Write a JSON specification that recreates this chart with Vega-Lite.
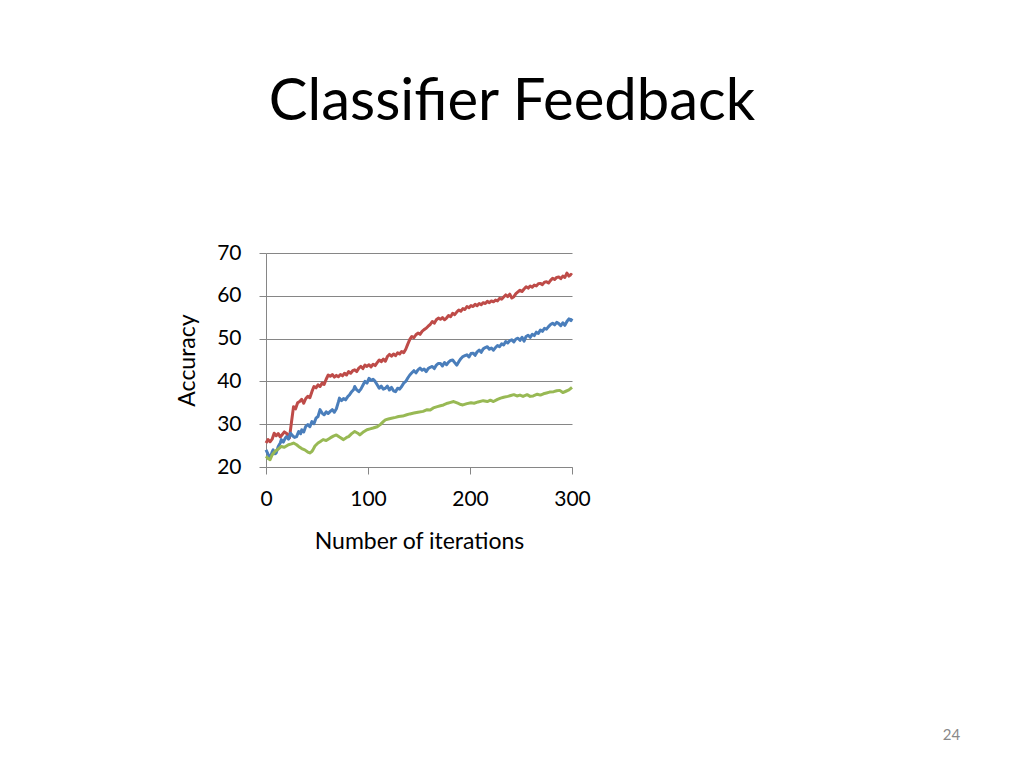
{
  "$schema": "https://vega.github.io/schema/vega-lite/v6.json",
  "width": 306,
  "height": 214,
  "autosize": {"type": "none"},
  "padding": {"left": 266, "top": 253, "right": 452, "bottom": 301},
  "background": "white",
  "config": {"view": {"stroke": null}, "font": "Lato"},
  "title": {
    "text": "Classifier Feedback",
    "anchor": "middle",
    "frame": "group",
    "dx": 93,
    "offset": 110,
    "fontSize": 58,
    "font": "Lato",
    "fontWeight": "normal",
    "color": "#000000"
  },
  "datasets": {
    "main": [
      {"i":0,"s":"s1","v":25.6},{"i":2,"s":"s1","v":26.4},{"i":4,"s":"s1","v":25.9},{"i":6,"s":"s1","v":26.5},{"i":8,"s":"s1","v":27.9},{"i":10,"s":"s1","v":27.3},{"i":12,"s":"s1","v":27.8},{"i":14,"s":"s1","v":27.0},{"i":16,"s":"s1","v":27.6},{"i":18,"s":"s1","v":28.2},{"i":20,"s":"s1","v":27.9},{"i":22,"s":"s1","v":27.2},{"i":23,"s":"s1","v":26.8},{"i":25,"s":"s1","v":30.5},{"i":27,"s":"s1","v":34.1},{"i":29,"s":"s1","v":33.6},{"i":31,"s":"s1","v":35.0},{"i":33,"s":"s1","v":35.3},{"i":35,"s":"s1","v":35.8},{"i":37,"s":"s1","v":34.9},{"i":39,"s":"s1","v":36.0},{"i":41,"s":"s1","v":36.5},{"i":43,"s":"s1","v":36.2},{"i":45,"s":"s1","v":37.6},{"i":47,"s":"s1","v":38.8},{"i":49,"s":"s1","v":38.5},{"i":51,"s":"s1","v":39.2},{"i":53,"s":"s1","v":38.8},{"i":55,"s":"s1","v":39.6},{"i":57,"s":"s1","v":39.3},{"i":59,"s":"s1","v":40.5},{"i":61,"s":"s1","v":41.5},{"i":63,"s":"s1","v":41.2},{"i":65,"s":"s1","v":41.6},{"i":67,"s":"s1","v":41.0},{"i":69,"s":"s1","v":41.4},{"i":71,"s":"s1","v":41.1},{"i":73,"s":"s1","v":41.6},{"i":75,"s":"s1","v":41.3},{"i":77,"s":"s1","v":41.9},{"i":79,"s":"s1","v":41.5},{"i":81,"s":"s1","v":42.3},{"i":83,"s":"s1","v":41.9},{"i":85,"s":"s1","v":42.5},{"i":87,"s":"s1","v":42.7},{"i":89,"s":"s1","v":42.3},{"i":91,"s":"s1","v":43.1},{"i":93,"s":"s1","v":43.5},{"i":95,"s":"s1","v":43.0},{"i":97,"s":"s1","v":43.8},{"i":99,"s":"s1","v":43.5},{"i":101,"s":"s1","v":43.9},{"i":103,"s":"s1","v":43.4},{"i":105,"s":"s1","v":44.0},{"i":107,"s":"s1","v":43.7},{"i":109,"s":"s1","v":44.4},{"i":111,"s":"s1","v":45.0},{"i":113,"s":"s1","v":44.6},{"i":115,"s":"s1","v":45.2},{"i":117,"s":"s1","v":44.7},{"i":119,"s":"s1","v":45.8},{"i":121,"s":"s1","v":46.3},{"i":123,"s":"s1","v":45.9},{"i":125,"s":"s1","v":46.4},{"i":127,"s":"s1","v":46.0},{"i":129,"s":"s1","v":46.7},{"i":131,"s":"s1","v":46.4},{"i":133,"s":"s1","v":47.0},{"i":135,"s":"s1","v":46.7},{"i":137,"s":"s1","v":47.5},{"i":139,"s":"s1","v":48.7},{"i":141,"s":"s1","v":49.8},{"i":143,"s":"s1","v":50.5},{"i":145,"s":"s1","v":50.2},{"i":147,"s":"s1","v":50.9},{"i":149,"s":"s1","v":51.3},{"i":151,"s":"s1","v":51.0},{"i":153,"s":"s1","v":51.7},{"i":155,"s":"s1","v":52.1},{"i":157,"s":"s1","v":52.4},{"i":159,"s":"s1","v":52.9},{"i":161,"s":"s1","v":53.3},{"i":163,"s":"s1","v":54.0},{"i":165,"s":"s1","v":53.6},{"i":167,"s":"s1","v":54.4},{"i":169,"s":"s1","v":54.8},{"i":171,"s":"s1","v":54.5},{"i":173,"s":"s1","v":54.9},{"i":175,"s":"s1","v":54.4},{"i":177,"s":"s1","v":54.8},{"i":179,"s":"s1","v":55.4},{"i":181,"s":"s1","v":55.1},{"i":183,"s":"s1","v":55.9},{"i":185,"s":"s1","v":55.6},{"i":187,"s":"s1","v":56.2},{"i":189,"s":"s1","v":56.7},{"i":191,"s":"s1","v":56.4},{"i":193,"s":"s1","v":57.0},{"i":195,"s":"s1","v":56.8},{"i":197,"s":"s1","v":57.5},{"i":199,"s":"s1","v":57.2},{"i":201,"s":"s1","v":57.7},{"i":203,"s":"s1","v":57.5},{"i":205,"s":"s1","v":58.0},{"i":207,"s":"s1","v":57.7},{"i":209,"s":"s1","v":58.2},{"i":211,"s":"s1","v":57.9},{"i":213,"s":"s1","v":58.4},{"i":215,"s":"s1","v":58.2},{"i":217,"s":"s1","v":58.7},{"i":219,"s":"s1","v":58.4},{"i":221,"s":"s1","v":58.8},{"i":223,"s":"s1","v":58.6},{"i":225,"s":"s1","v":59.0},{"i":227,"s":"s1","v":58.8},{"i":229,"s":"s1","v":59.4},{"i":231,"s":"s1","v":59.2},{"i":233,"s":"s1","v":59.7},{"i":235,"s":"s1","v":60.2},{"i":237,"s":"s1","v":59.8},{"i":239,"s":"s1","v":60.4},{"i":241,"s":"s1","v":59.5},{"i":243,"s":"s1","v":59.8},{"i":245,"s":"s1","v":60.5},{"i":247,"s":"s1","v":60.9},{"i":249,"s":"s1","v":61.3},{"i":251,"s":"s1","v":61.0},{"i":253,"s":"s1","v":61.6},{"i":255,"s":"s1","v":62.1},{"i":257,"s":"s1","v":61.8},{"i":259,"s":"s1","v":62.3},{"i":261,"s":"s1","v":62.0},{"i":263,"s":"s1","v":62.5},{"i":265,"s":"s1","v":62.3},{"i":267,"s":"s1","v":62.8},{"i":269,"s":"s1","v":62.9},{"i":271,"s":"s1","v":62.6},{"i":273,"s":"s1","v":63.2},{"i":275,"s":"s1","v":63.3},{"i":277,"s":"s1","v":63.0},{"i":279,"s":"s1","v":63.6},{"i":281,"s":"s1","v":64.1},{"i":283,"s":"s1","v":63.8},{"i":285,"s":"s1","v":64.3},{"i":287,"s":"s1","v":64.4},{"i":289,"s":"s1","v":64.0},{"i":291,"s":"s1","v":64.6},{"i":293,"s":"s1","v":64.3},{"i":295,"s":"s1","v":65.3},{"i":297,"s":"s1","v":64.6},{"i":299,"s":"s1","v":65.0},{"i":300,"s":"s1","v":64.8},
      {"i":0,"s":"s2","v":24.0},{"i":2,"s":"s2","v":23.0},{"i":4,"s":"s2","v":22.1},{"i":6,"s":"s2","v":23.5},{"i":7,"s":"s2","v":24.0},{"i":9,"s":"s2","v":23.1},{"i":10,"s":"s2","v":23.3},{"i":12,"s":"s2","v":24.8},{"i":14,"s":"s2","v":25.6},{"i":15,"s":"s2","v":26.4},{"i":17,"s":"s2","v":25.8},{"i":19,"s":"s2","v":26.8},{"i":20,"s":"s2","v":27.1},{"i":22,"s":"s2","v":26.5},{"i":24,"s":"s2","v":27.9},{"i":26,"s":"s2","v":27.3},{"i":28,"s":"s2","v":26.9},{"i":30,"s":"s2","v":27.1},{"i":32,"s":"s2","v":28.3},{"i":34,"s":"s2","v":27.8},{"i":35,"s":"s2","v":28.7},{"i":37,"s":"s2","v":28.2},{"i":39,"s":"s2","v":29.5},{"i":41,"s":"s2","v":29.9},{"i":43,"s":"s2","v":29.4},{"i":45,"s":"s2","v":30.6},{"i":47,"s":"s2","v":30.1},{"i":49,"s":"s2","v":31.4},{"i":51,"s":"s2","v":31.8},{"i":53,"s":"s2","v":33.4},{"i":55,"s":"s2","v":32.6},{"i":57,"s":"s2","v":32.2},{"i":59,"s":"s2","v":32.9},{"i":61,"s":"s2","v":32.5},{"i":63,"s":"s2","v":33.0},{"i":65,"s":"s2","v":33.4},{"i":67,"s":"s2","v":32.8},{"i":69,"s":"s2","v":33.6},{"i":71,"s":"s2","v":35.2},{"i":72,"s":"s2","v":36.1},{"i":74,"s":"s2","v":35.5},{"i":76,"s":"s2","v":36.0},{"i":78,"s":"s2","v":35.7},{"i":80,"s":"s2","v":36.4},{"i":82,"s":"s2","v":36.9},{"i":84,"s":"s2","v":37.6},{"i":86,"s":"s2","v":38.1},{"i":87,"s":"s2","v":38.8},{"i":89,"s":"s2","v":38.0},{"i":91,"s":"s2","v":37.6},{"i":93,"s":"s2","v":38.2},{"i":95,"s":"s2","v":39.1},{"i":97,"s":"s2","v":40.0},{"i":99,"s":"s2","v":39.6},{"i":101,"s":"s2","v":40.7},{"i":103,"s":"s2","v":40.2},{"i":105,"s":"s2","v":40.5},{"i":107,"s":"s2","v":40.0},{"i":109,"s":"s2","v":39.2},{"i":111,"s":"s2","v":38.4},{"i":113,"s":"s2","v":38.9},{"i":115,"s":"s2","v":38.2},{"i":117,"s":"s2","v":38.4},{"i":119,"s":"s2","v":38.9},{"i":121,"s":"s2","v":38.0},{"i":123,"s":"s2","v":38.6},{"i":125,"s":"s2","v":37.8},{"i":127,"s":"s2","v":37.6},{"i":129,"s":"s2","v":38.4},{"i":131,"s":"s2","v":38.2},{"i":133,"s":"s2","v":38.8},{"i":135,"s":"s2","v":39.6},{"i":137,"s":"s2","v":40.0},{"i":139,"s":"s2","v":40.8},{"i":141,"s":"s2","v":41.5},{"i":143,"s":"s2","v":42.0},{"i":145,"s":"s2","v":42.5},{"i":147,"s":"s2","v":42.0},{"i":149,"s":"s2","v":42.7},{"i":151,"s":"s2","v":43.1},{"i":153,"s":"s2","v":42.6},{"i":155,"s":"s2","v":42.9},{"i":157,"s":"s2","v":42.3},{"i":159,"s":"s2","v":43.0},{"i":161,"s":"s2","v":43.3},{"i":163,"s":"s2","v":43.5},{"i":165,"s":"s2","v":43.0},{"i":167,"s":"s2","v":43.8},{"i":169,"s":"s2","v":44.2},{"i":171,"s":"s2","v":44.2},{"i":173,"s":"s2","v":43.6},{"i":175,"s":"s2","v":44.4},{"i":177,"s":"s2","v":43.9},{"i":179,"s":"s2","v":44.5},{"i":181,"s":"s2","v":44.9},{"i":183,"s":"s2","v":45.0},{"i":185,"s":"s2","v":44.4},{"i":187,"s":"s2","v":43.8},{"i":189,"s":"s2","v":44.6},{"i":191,"s":"s2","v":45.3},{"i":193,"s":"s2","v":45.8},{"i":195,"s":"s2","v":46.0},{"i":197,"s":"s2","v":46.2},{"i":199,"s":"s2","v":45.7},{"i":201,"s":"s2","v":46.5},{"i":203,"s":"s2","v":46.6},{"i":205,"s":"s2","v":46.1},{"i":207,"s":"s2","v":46.9},{"i":209,"s":"s2","v":47.3},{"i":211,"s":"s2","v":46.8},{"i":213,"s":"s2","v":47.6},{"i":215,"s":"s2","v":47.9},{"i":217,"s":"s2","v":48.1},{"i":219,"s":"s2","v":47.5},{"i":221,"s":"s2","v":47.8},{"i":223,"s":"s2","v":47.3},{"i":225,"s":"s2","v":47.9},{"i":227,"s":"s2","v":48.4},{"i":229,"s":"s2","v":48.1},{"i":231,"s":"s2","v":48.8},{"i":233,"s":"s2","v":48.5},{"i":235,"s":"s2","v":49.3},{"i":237,"s":"s2","v":49.0},{"i":239,"s":"s2","v":49.5},{"i":241,"s":"s2","v":49.7},{"i":243,"s":"s2","v":49.2},{"i":245,"s":"s2","v":49.9},{"i":247,"s":"s2","v":50.1},{"i":249,"s":"s2","v":49.6},{"i":251,"s":"s2","v":50.3},{"i":253,"s":"s2","v":49.4},{"i":255,"s":"s2","v":50.5},{"i":257,"s":"s2","v":50.8},{"i":259,"s":"s2","v":50.3},{"i":261,"s":"s2","v":51.0},{"i":263,"s":"s2","v":50.7},{"i":265,"s":"s2","v":51.5},{"i":267,"s":"s2","v":51.2},{"i":269,"s":"s2","v":52.0},{"i":271,"s":"s2","v":51.7},{"i":273,"s":"s2","v":52.4},{"i":275,"s":"s2","v":52.2},{"i":277,"s":"s2","v":52.8},{"i":279,"s":"s2","v":53.3},{"i":281,"s":"s2","v":53.6},{"i":283,"s":"s2","v":53.2},{"i":285,"s":"s2","v":53.8},{"i":287,"s":"s2","v":53.5},{"i":289,"s":"s2","v":53.0},{"i":291,"s":"s2","v":53.7},{"i":293,"s":"s2","v":53.1},{"i":295,"s":"s2","v":54.0},{"i":297,"s":"s2","v":54.6},{"i":299,"s":"s2","v":54.2},{"i":300,"s":"s2","v":54.7},
      {"i":0,"s":"s3","v":22.5},{"i":2,"s":"s3","v":22.0},{"i":4,"s":"s3","v":21.7},{"i":6,"s":"s3","v":22.8},{"i":9,"s":"s3","v":23.7},{"i":12,"s":"s3","v":24.2},{"i":15,"s":"s3","v":24.8},{"i":18,"s":"s3","v":24.6},{"i":22,"s":"s3","v":25.2},{"i":25,"s":"s3","v":25.4},{"i":27,"s":"s3","v":25.6},{"i":30,"s":"s3","v":25.2},{"i":32,"s":"s3","v":24.8},{"i":35,"s":"s3","v":24.3},{"i":38,"s":"s3","v":24.0},{"i":41,"s":"s3","v":23.5},{"i":43,"s":"s3","v":23.3},{"i":45,"s":"s3","v":23.6},{"i":46,"s":"s3","v":24.0},{"i":48,"s":"s3","v":24.9},{"i":51,"s":"s3","v":25.6},{"i":53,"s":"s3","v":25.9},{"i":56,"s":"s3","v":26.4},{"i":59,"s":"s3","v":26.2},{"i":63,"s":"s3","v":26.8},{"i":66,"s":"s3","v":27.2},{"i":69,"s":"s3","v":27.5},{"i":72,"s":"s3","v":27.0},{"i":76,"s":"s3","v":26.4},{"i":79,"s":"s3","v":26.9},{"i":81,"s":"s3","v":27.1},{"i":84,"s":"s3","v":27.8},{"i":87,"s":"s3","v":28.3},{"i":90,"s":"s3","v":27.9},{"i":92,"s":"s3","v":27.5},{"i":95,"s":"s3","v":28.1},{"i":99,"s":"s3","v":28.7},{"i":102,"s":"s3","v":28.9},{"i":105,"s":"s3","v":29.1},{"i":109,"s":"s3","v":29.4},{"i":112,"s":"s3","v":29.9},{"i":115,"s":"s3","v":30.6},{"i":117,"s":"s3","v":31.0},{"i":120,"s":"s3","v":31.2},{"i":123,"s":"s3","v":31.4},{"i":127,"s":"s3","v":31.6},{"i":130,"s":"s3","v":31.8},{"i":134,"s":"s3","v":31.9},{"i":138,"s":"s3","v":32.2},{"i":141,"s":"s3","v":32.4},{"i":145,"s":"s3","v":32.6},{"i":149,"s":"s3","v":32.8},{"i":154,"s":"s3","v":33.0},{"i":158,"s":"s3","v":33.4},{"i":161,"s":"s3","v":33.3},{"i":164,"s":"s3","v":33.8},{"i":168,"s":"s3","v":34.1},{"i":171,"s":"s3","v":34.3},{"i":174,"s":"s3","v":34.5},{"i":178,"s":"s3","v":34.9},{"i":181,"s":"s3","v":35.1},{"i":184,"s":"s3","v":35.3},{"i":188,"s":"s3","v":34.9},{"i":191,"s":"s3","v":34.6},{"i":193,"s":"s3","v":34.5},{"i":197,"s":"s3","v":34.8},{"i":201,"s":"s3","v":35.0},{"i":204,"s":"s3","v":34.9},{"i":208,"s":"s3","v":35.2},{"i":213,"s":"s3","v":35.5},{"i":217,"s":"s3","v":35.3},{"i":220,"s":"s3","v":35.6},{"i":223,"s":"s3","v":35.3},{"i":227,"s":"s3","v":35.8},{"i":230,"s":"s3","v":36.1},{"i":233,"s":"s3","v":36.3},{"i":237,"s":"s3","v":36.5},{"i":240,"s":"s3","v":36.7},{"i":243,"s":"s3","v":36.9},{"i":246,"s":"s3","v":36.6},{"i":249,"s":"s3","v":36.8},{"i":252,"s":"s3","v":36.5},{"i":256,"s":"s3","v":36.9},{"i":259,"s":"s3","v":36.5},{"i":262,"s":"s3","v":36.6},{"i":266,"s":"s3","v":37.0},{"i":269,"s":"s3","v":36.8},{"i":272,"s":"s3","v":37.1},{"i":275,"s":"s3","v":37.3},{"i":278,"s":"s3","v":37.5},{"i":282,"s":"s3","v":37.6},{"i":285,"s":"s3","v":37.8},{"i":288,"s":"s3","v":37.9},{"i":291,"s":"s3","v":37.4},{"i":294,"s":"s3","v":37.7},{"i":297,"s":"s3","v":38.0},{"i":300,"s":"s3","v":38.6}
    ],
    "page": [{"label": "24", "x": 672, "y": -42.5}]
  },
  "layer": [
    {
      "data": {"name": "main"},
      "mark": {"type": "line", "strokeWidth": 3, "interpolate": "linear", "strokeJoin": "round"},
      "encoding": {
        "x": {
          "field": "i", "type": "quantitative",
          "scale": {"domain": [0, 300], "nice": false, "zero": false},
          "axis": {
            "values": [0, 100, 200, 300],
            "labelFlush": false,
            "title": "Number of iterations",
            "titleFont": "Lato", "titleFontSize": 23, "titleFontWeight": "normal", "titleColor": "#000000",
            "titlePadding": 21,
            "labelFont": "Lato", "labelFontSize": 21, "labelColor": "#000000",
            "labelPadding": 14,
            "tickSize": 7, "tickColor": "#868686", "domainColor": "#868686",
            "grid": false
          }
        },
        "y": {
          "field": "v", "type": "quantitative",
          "scale": {"domain": [20, 70], "nice": false, "zero": false},
          "axis": {
            "values": [20, 30, 40, 50, 60, 70],
            "labelFlush": false,
            "title": "Accuracy",
            "titleFont": "Lato", "titleFontSize": 23, "titleFontWeight": "normal", "titleColor": "#000000",
            "titlePadding": 17,
            "labelFont": "Lato", "labelFontSize": 21, "labelColor": "#000000",
            "labelPadding": 18,
            "tickSize": 7, "tickColor": "#868686", "domainColor": "#868686",
            "grid": true, "gridColor": "#868686", "gridOpacity": 1, "gridWidth": 1
          }
        },
        "color": {
          "field": "s", "type": "nominal",
          "scale": {"domain": ["s1", "s2", "s3"], "range": ["#BE4B48", "#4A7EBB", "#98B954"]},
          "legend": null
        }
      }
    },
    {
      "data": {"name": "page"},
      "mark": {"type": "text", "font": "Lato", "fontSize": 15, "color": "#898989", "align": "center", "baseline": "middle", "clip": false},
      "encoding": {
        "x": {"field": "x", "type": "quantitative"},
        "y": {"field": "y", "type": "quantitative"},
        "text": {"field": "label"}
      }
    }
  ]
}
